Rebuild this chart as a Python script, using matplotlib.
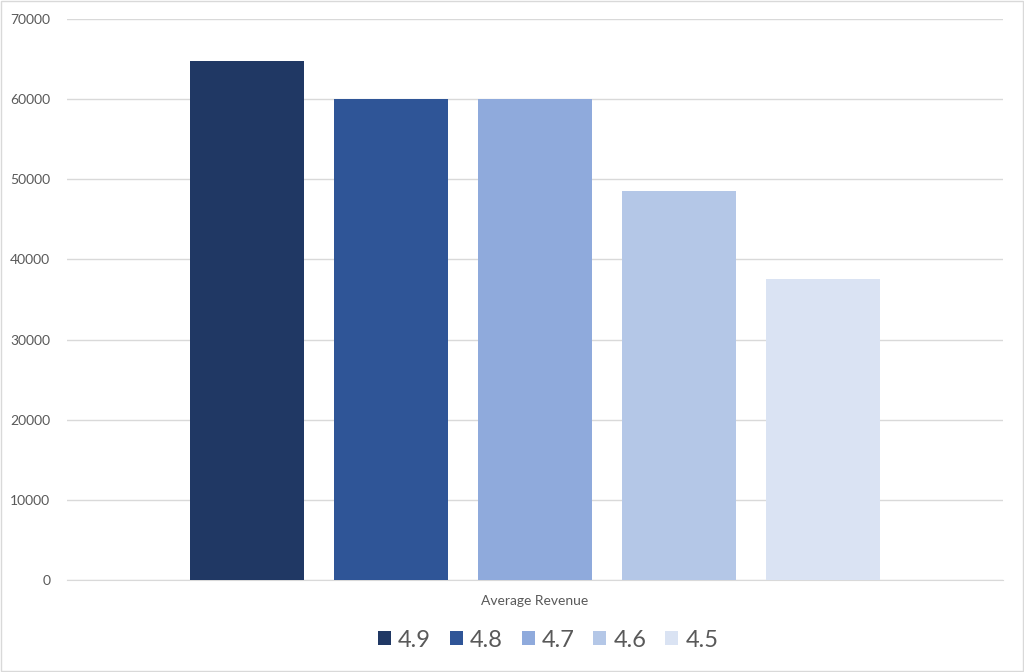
import numpy as np
import matplotlib.pyplot as plt
from matplotlib.patches import Rectangle

plt.rcParams['font.family'] = ['Lato', 'DejaVu Sans']

# data
series = ["4.9", "4.8", "4.7", "4.6", "4.5"]
values = [64700, 60000, 60000, 48600, 37500]
category = "Average Revenue"
colors = ["#203864", "#2F5597", "#8FAADC", "#B4C7E7", "#DAE3F3"]

fig = plt.figure(figsize=(10.24, 6.72), dpi=100)
ax = fig.add_axes([67 / 1024, 1 - 580 / 672, 936 / 1024, 561 / 672])

x = np.arange(len(series))
for i in range(len(series)):
    ax.bar(x[i], values[i], width=0.79, color=colors[i], label=series[i], zorder=3)

ax.set_xlim(-1.25, len(series) - 1 + 1.25)
ax.set_ylim(0, 70000)
ax.set_yticks(np.arange(0, 70001, 10000))
ax.yaxis.grid(True, color="#D9D9D9", linewidth=1)
ax.set_axisbelow(True)
ax.set_xticks([])
for s in ["top", "right", "left"]:
    ax.spines[s].set_visible(False)
ax.spines["bottom"].set_color("#D9D9D9")
ax.tick_params(axis="y", length=0, labelsize=10, labelcolor="#595959", pad=12)

ax.text(0.5, -0.037, category, transform=ax.transAxes, ha="center", va="center",
        fontsize=10, color="#595959")

leg = ax.legend(loc="center", bbox_to_anchor=(0.514, -0.107), ncol=5, frameon=False,
                fontsize=17, handlelength=0.55, handleheight=0.55, handletextpad=0.3,
                columnspacing=0.8, labelcolor="#595959")

# thin border around the chart area like the Excel frame
fig.patches.append(Rectangle((0.001, 0.001), 0.998, 0.998, transform=fig.transFigure,
                             fill=False, edgecolor="#D9D9D9", linewidth=1))

fig.savefig("out.png", dpi=100)
